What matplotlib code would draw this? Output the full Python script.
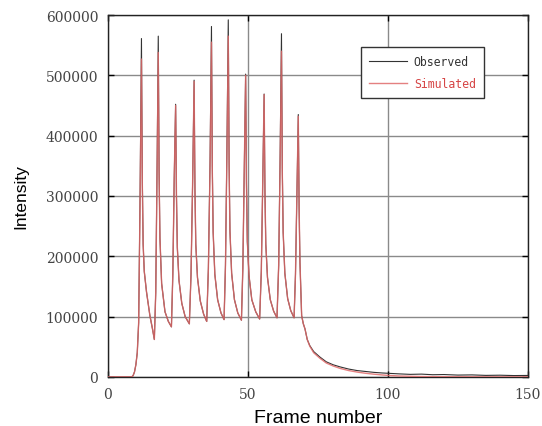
#!/usr/bin/env python3
"""Observed vs simulated intensity over frame number."""

import matplotlib
matplotlib.use("Agg")
import matplotlib.pyplot as plt

# Frame positions shared by both series.
frames = [0, 8.5, 9.0, 9.5, 10.0, 10.5, 11.0, 11.5, 12.0, 12.3, 12.6, 13.0,
          13.8, 15.0, 16.0, 16.6, 17.1, 17.6, 18.0, 18.3, 18.6, 19.2, 20.4,
          21.6, 22.7, 23.2, 23.7, 24.2, 24.5, 24.8, 25.4, 26.4, 27.6, 29.1,
          29.7, 30.3, 30.8, 31.1, 31.4, 32.0, 33.0, 34.2, 35.3, 35.9, 36.5,
          37.0, 37.3, 37.6, 38.2, 39.2, 40.4, 41.5, 42.0, 42.5, 43.0, 43.3,
          43.6, 44.2, 45.2, 46.4, 47.7, 48.2, 48.7, 49.2, 49.5, 49.8, 50.4,
          51.4, 52.8, 54.2, 54.8, 55.3, 55.8, 56.1, 56.4, 57.0, 58.0, 59.2,
          60.4, 61.0, 61.5, 62.0, 62.3, 62.6, 63.2, 64.2, 65.3, 66.5, 67.0,
          67.5, 68.0, 68.3, 68.6, 69.2, 69.8, 70.4, 71.2, 72.1, 73.5, 75.7,
          78, 80.5, 83, 86, 89, 92, 95, 98, 100, 104, 108, 112, 116, 120,
          125, 130, 135, 140, 145, 150]

observed = [0, 0, 2000, 8000, 20000, 40000, 90000, 300000, 561000, 330000,
            220000, 175000, 141000, 102000, 78000, 62000, 140000, 360000,
            565000, 340000, 230000, 155000, 108000, 92000, 83000, 170000,
            330000, 452000, 300000, 215000, 160000, 122000, 100000, 88000,
            170000, 330000, 492000, 310000, 220000, 165000, 126000, 104000,
            92000, 180000, 360000, 581000, 350000, 240000, 170000, 128000,
            106000, 95000, 185000, 370000, 592000, 355000, 242000, 172000,
            128000, 106000, 94000, 180000, 340000, 502000, 320000, 225000,
            168000, 128000, 108000, 96000, 175000, 320000, 469000, 305000,
            220000, 165000, 128000, 109000, 98000, 185000, 360000, 569000,
            345000, 240000, 172000, 130000, 110000, 98000, 170000, 300000,
            435000, 280000, 190000, 101600, 88000, 79500, 62000, 52000,
            42000, 33000, 25000, 20000, 16500, 13000, 10500, 9000, 7500,
            6500, 6000, 5000, 4200, 4600, 3600, 3900, 3000, 3300, 2500,
            2800, 2200, 2400]

simulated = [0, 0, 2000, 8000, 20000, 40000, 90000, 290000, 527000, 320000,
             220000, 175000, 141000, 102000, 78000, 62000, 140000, 350000,
             538000, 330000, 230000, 155000, 108000, 92000, 83000, 170000,
             330000, 450000, 300000, 215000, 160000, 122000, 100000, 88000,
             170000, 330000, 490000, 310000, 220000, 165000, 126000, 104000,
             92000, 180000, 350000, 555000, 340000, 240000, 170000, 128000,
             106000, 95000, 185000, 360000, 565000, 345000, 242000, 172000,
             128000, 106000, 94000, 180000, 340000, 500000, 320000, 225000,
             168000, 128000, 108000, 96000, 175000, 320000, 468000, 305000,
             220000, 165000, 128000, 109000, 98000, 185000, 350000, 540000,
             335000, 240000, 172000, 130000, 110000, 98000, 170000, 300000,
             432000, 280000, 190000, 101600, 88000, 79500, 62000, 51000,
             40000, 31000, 23000, 18000, 14000, 10500, 8000, 6000, 4500,
             3200, 2500, 1500, 1000, 600, 400, 300, 200, 150, 100, 80, 60,
             50]

x_ticks = [0, 50, 100, 150]
y_ticks = [0, 100000, 200000, 300000, 400000, 500000, 600000]

fig = plt.figure(figsize=(5.42, 4.27), dpi=100)
ax = fig.add_axes([0.199, 0.115, 0.775, 0.8475])

ax.grid(True, color='#8a8a8a', lw=1.0, zorder=0)
obs_line, = ax.plot(frames, observed, color='#333333', lw=0.8, zorder=2,
                    label='Observed')
sim_line, = ax.plot(frames, simulated, color='#e06a6a', lw=1.0, alpha=0.85,
                    zorder=3, label='Simulated')

ax.set_xlim(0, 150)
ax.set_ylim(0, 600000)
ax.set_xticks(x_ticks)
ax.set_yticks(y_ticks)
ax.set_xticklabels([str(v) for v in x_ticks], family='DejaVu Serif',
                   fontsize=10, color='#444444')
ax.set_yticklabels([str(v) for v in y_ticks], family='DejaVu Serif',
                   fontsize=10, color='#444444')
ax.tick_params(axis='both', direction='in', length=4, width=1,
               top=True, right=True, pad=7)
for spine in ax.spines.values():
    spine.set_color('#222222')
    spine.set_linewidth(1.0)

ax.set_xlabel('Frame number', family='Liberation Sans', fontsize=14,
              labelpad=6)
ax.set_ylabel('Intensity', family='Liberation Sans', fontsize=12.5,
              labelpad=12)

leg = ax.legend(loc='upper right', bbox_to_anchor=(0.895, 0.912),
                borderaxespad=0, fancybox=False, framealpha=1,
                edgecolor='#333333', handlelength=3.3, handletextpad=0.6,
                borderpad=0.7, labelspacing=0.75,
                prop={'family': 'DejaVu Sans Mono', 'size': 8.3})
leg.get_frame().set_linewidth(1.0)
leg.get_texts()[0].set_color('#333333')
leg.get_texts()[1].set_color('#d64545')

fig.savefig('out.png', dpi=100)
